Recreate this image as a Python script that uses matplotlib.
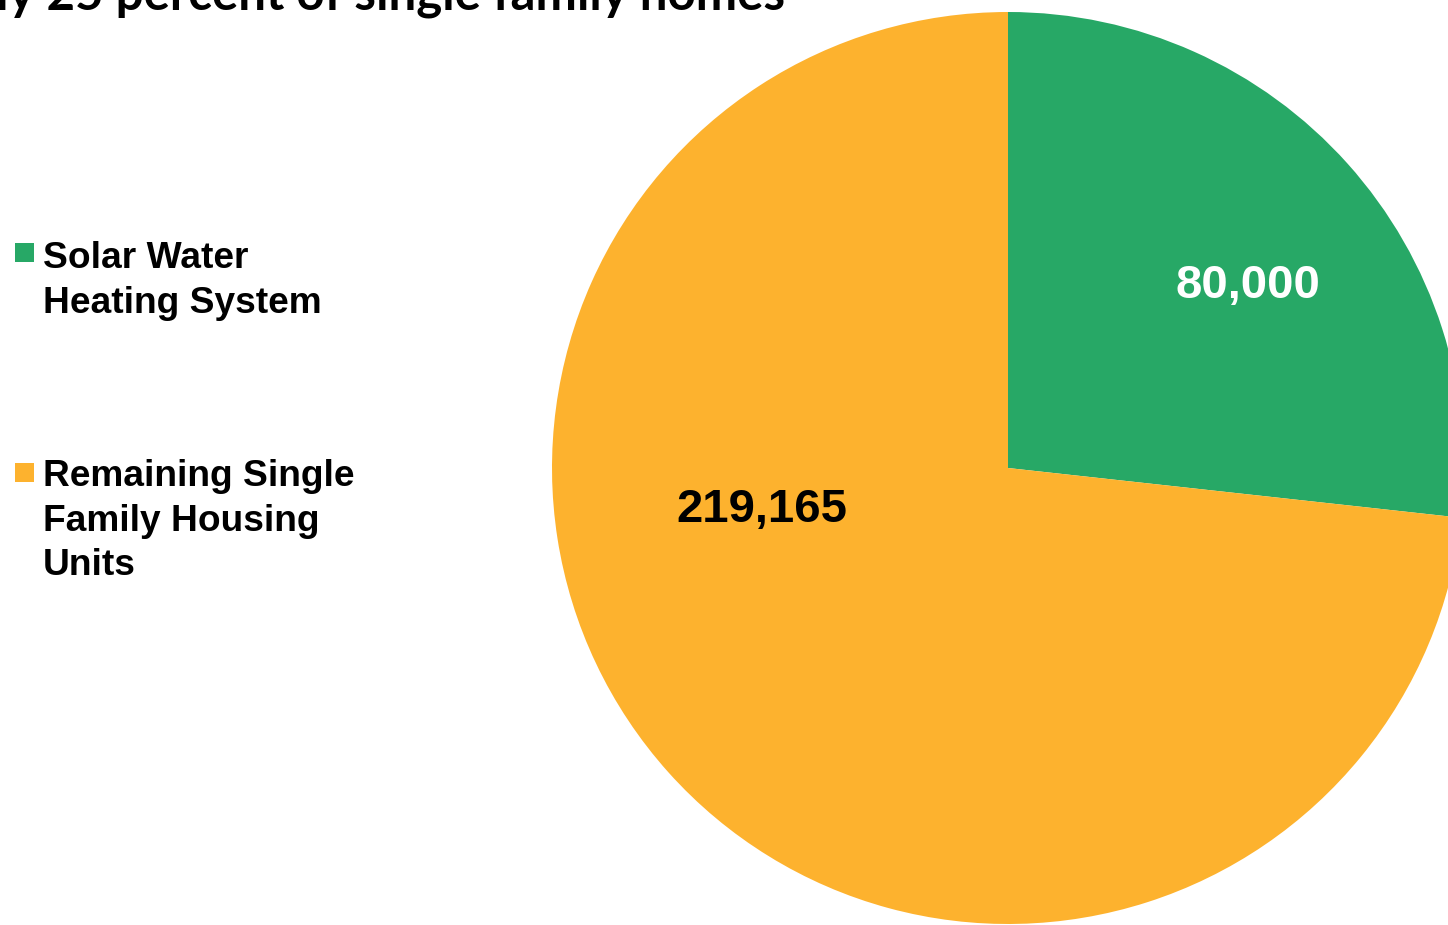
import matplotlib.pyplot as plt

# data
labels = ['Solar Water\nHeating System', 'Remaining Single\nFamily Housing\nUnits']
values = [80000, 219165]
value_text = ['80,000', '219,165']
colors = ['#27A866', '#FDB22E']
text_colors = ['white', 'black']

W, H = 1448, 925
fig = plt.figure(figsize=(W / 100, H / 100), dpi=100)
ax = fig.add_axes([0, 0, 1, 1])

# pie, centre and radius in pixel units (y measured from the bottom)
cx, cy, r = 1008, H - 468, 456
ax.pie(values, colors=colors, startangle=90, counterclock=False,
       center=(cx, cy), radius=r, frame=True,
       wedgeprops=dict(linewidth=0))
ax.set_xlim(0, W)
ax.set_ylim(0, H)
ax.set_aspect('equal')
ax.axis('off')

# value labels
label_pos = [(1248, H - 286), (762, H - 510)]
for (x, y), t, c in zip(label_pos, value_text, text_colors):
    ax.text(x, y, t, color=c, fontsize=34, fontweight='bold',
            family='Liberation Sans', ha='center', va='center')

# legend on the left
legend_y = [H - 252, H - 472]
text_top = [H - 241, H - 459]
for y, ty, lab, col in zip(legend_y, text_top, labels, colors):
    ax.add_patch(plt.Rectangle((15, y - 10), 19, 19, color=col, lw=0))
    ax.text(43, ty, lab, fontsize=26.7, fontweight='bold',
            family='Liberation Sans', ha='left', va='top', linespacing=1.36,
            color='black')

# title, cut off at the top of the picture (as in the source image)
ax.text(785, H - 9, 'Approximately 25 percent of single family homes',
        fontsize=35.5, fontweight='bold', family='Lato', ha='right',
        va='baseline', color='black')

fig.savefig('out.png', dpi=100)
